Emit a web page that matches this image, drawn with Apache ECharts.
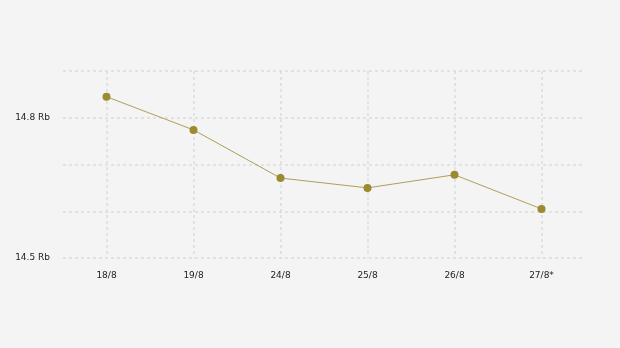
<!DOCTYPE html>
<html><head><meta charset="utf-8">
<script src="https://cdn.jsdelivr.net/npm/echarts@6/dist/echarts.min.js"></script>
<style>html,body{margin:0;padding:0;background:#f4f4f4}#c{width:620px;height:348px}</style>
</head><body><div id="c"></div>
<script>
const categories = ['18/8', '19/8', '24/8', '25/8', '26/8', '27/8*'];
const values = [14.845, 14.774, 14.671, 14.65, 14.678, 14.605];
const shownTicks = [14.5, 14.8];

const chart = echarts.init(document.getElementById('c'), null, {renderer: 'canvas'});
chart.setOption({
  backgroundColor: '#f4f4f4',
  animation: false,
  grid: {left: 63, right: 35, top: 71, bottom: 90},
  xAxis: {
    type: 'category',
    data: categories,
    boundaryGap: true,
    axisLine: {show: false},
    axisTick: {show: false, alignWithLabel: true},
    axisLabel: {color: '#222', fontSize: 9, fontFamily: 'DejaVu Sans', margin: 13},
    splitLine: {show: true, alignWithLabel: true, lineStyle: {color: '#dcdcdc', type: [3, 3], width: 1.5}}
  },
  yAxis: {
    type: 'value',
    min: 14.5, max: 14.9, interval: 0.1,
    axisLine: {show: false},
    axisTick: {show: false},
    axisLabel: {
      color: '#222', fontSize: 9, fontFamily: 'DejaVu Sans', margin: 13,
      formatter: v => shownTicks.some(t => Math.abs(t - v) < 1e-6) ? v.toFixed(1) + ' Rb' : ''
    },
    splitLine: {lineStyle: {color: '#dcdcdc', type: [3, 3], width: 1.5}}
  },
  series: [{
    type: 'line',
    data: values,
    symbol: 'circle',
    symbolSize: 8,
    itemStyle: {color: '#9b8a2f'},
    lineStyle: {color: '#9b8a2f', width: 0.8}
  }]
});
</script></body></html>
